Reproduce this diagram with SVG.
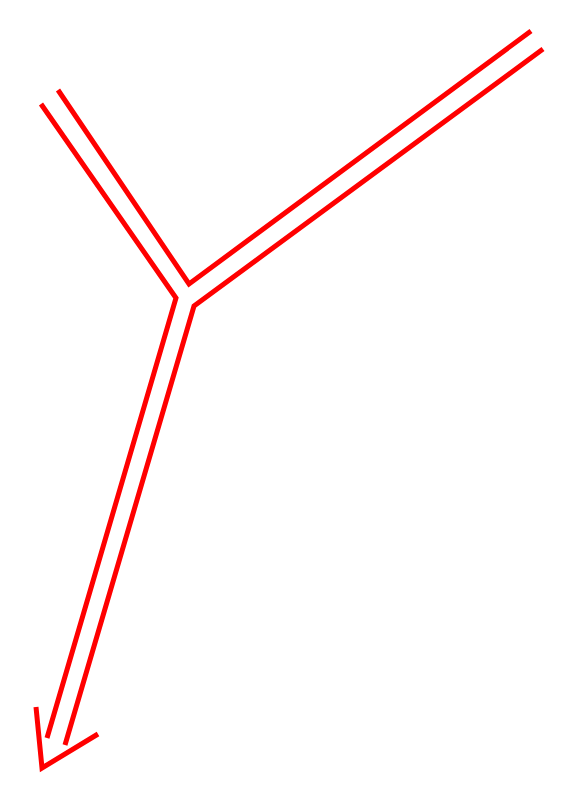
<svg xmlns="http://www.w3.org/2000/svg" width="562" height="800" viewBox="0 0 562 800">
<style>
.r{fill:none;stroke:#ff0000;stroke-width:5;stroke-linejoin:miter;stroke-linecap:butt}
</style>
<rect width="562" height="800" fill="#ffffff"/>
<g id="connectors">
<polyline class="r" points="41,104 176,298 47,738"/>
<polyline class="r" points="58,90 189,284 531,31"/>
<polyline class="r" points="543,49 194,306 65,745"/>
<polyline class="r" points="36,707 42,768 98,734"/>
</g>
</svg>
